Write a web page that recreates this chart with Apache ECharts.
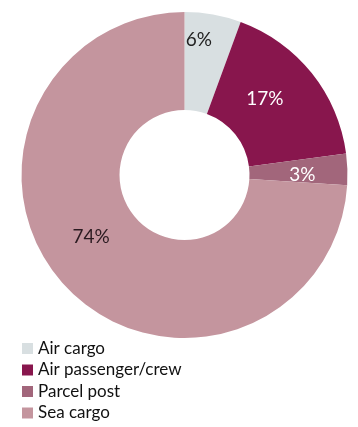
<!DOCTYPE html>
<html>
<head>
<meta charset="utf-8">
<script src="https://cdn.jsdelivr.net/npm/echarts@6/dist/echarts.min.js"></script>
<style>html,body{margin:0;padding:0;background:#fff}#c{width:358px;height:427px}</style>
</head>
<body>
<div id="c"></div>
<script>
const categories = ['Air cargo', 'Air passenger/crew', 'Parcel post', 'Sea cargo'];
const values = [5.6, 17.3, 3.1, 74.0];
const colors = ['#D8DFE1', '#88164D', '#A2667B', '#C4959E'];
const labelColors = ['#222222', '#ffffff', '#ffffff', '#2a1a20'];
const labelOffsets = [[-6, -20], [-11, -3], [1, 4], [-8, -18]];

const chart = echarts.init(document.getElementById('c'), null, {renderer: 'canvas'});
chart.setOption({
  animation: false,
  legend: {
    orient: 'vertical',
    left: 22,
    top: 340,
    height: 87,
    padding: 0,
    itemWidth: 11,
    itemHeight: 11,
    itemGap: 4.5,
    itemStyle: {borderWidth: 0},
    icon: 'rect',
    data: categories,
    textStyle: {fontFamily: 'Lato', fontSize: 17, color: '#111', lineHeight: 17}
  },
  series: [{
    type: 'pie',
    center: [184.5, 175],
    radius: [65, 163],
    startAngle: 90,
    clockwise: true,
    avoidLabelOverlap: false,
    labelLine: {show: false},
    data: categories.map((n, i) => ({
      name: n,
      value: values[i],
      itemStyle: {color: colors[i]},
      label: {color: labelColors[i], offset: labelOffsets[i]}
    })),
    label: {
      show: true,
      position: 'inside',
      fontFamily: 'Lato',
      fontSize: 19,
      formatter: p => Math.round(p.percent) + '%'
    },
    emphasis: {disabled: true}
  }]
});
</script>
</body>
</html>
